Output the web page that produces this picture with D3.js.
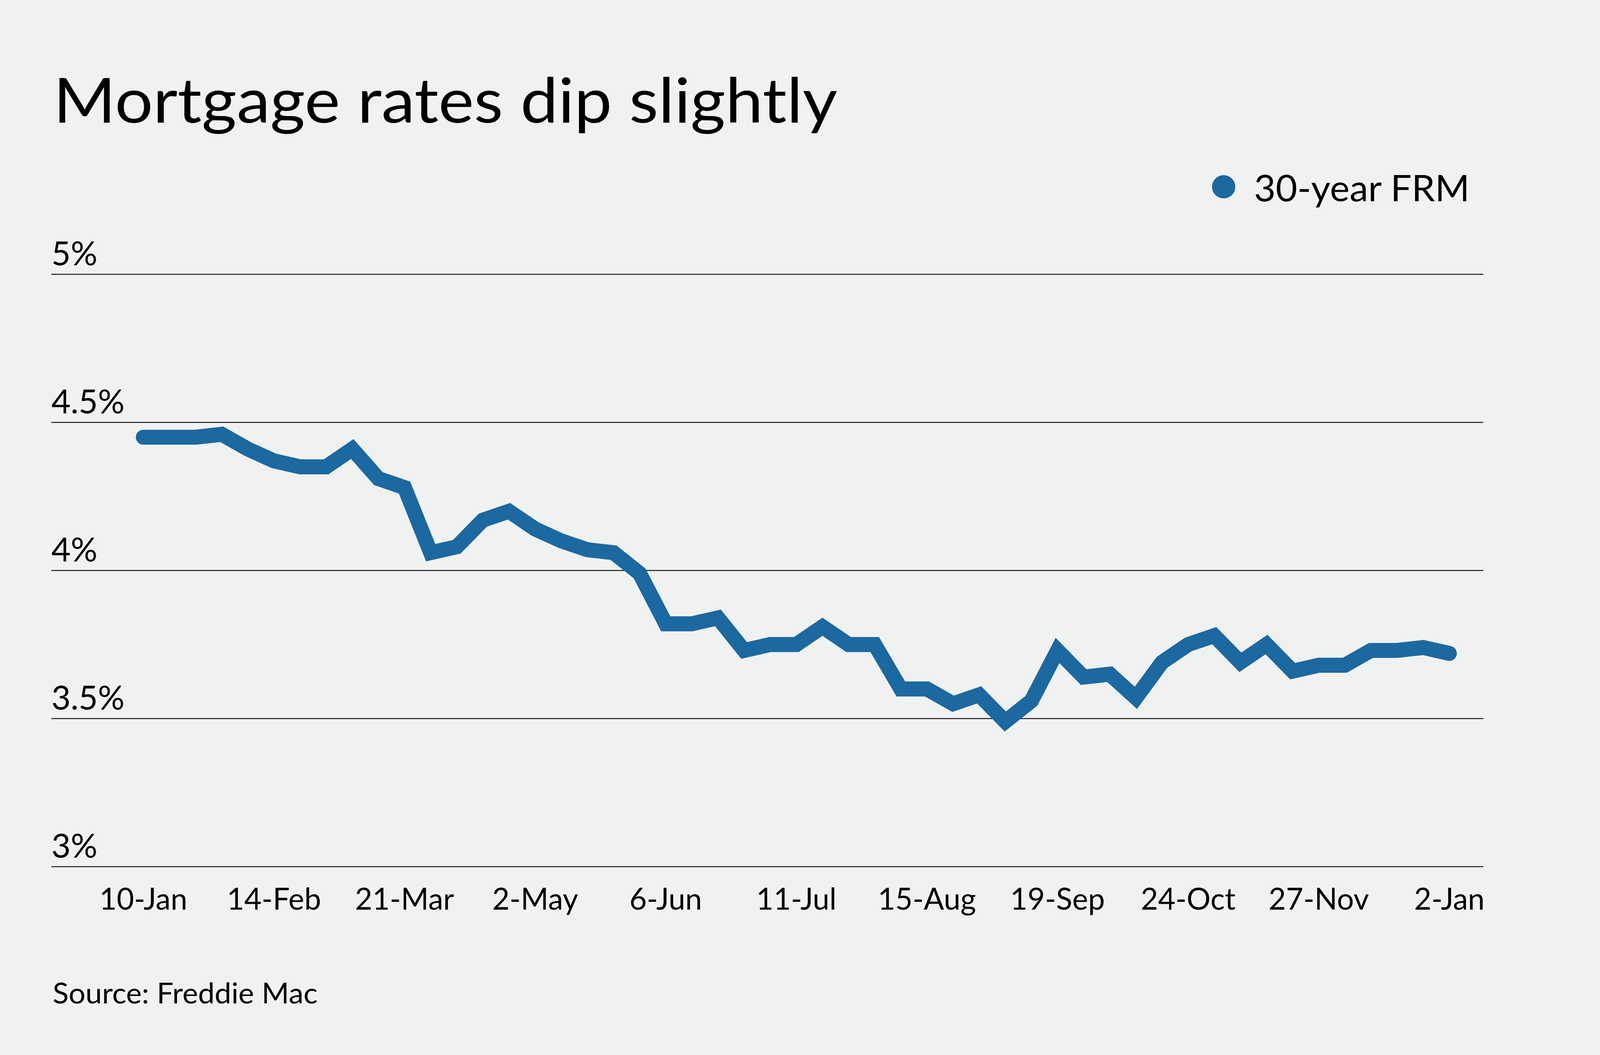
<!DOCTYPE html>
<html>
<head>
<meta charset="utf-8">
<script src="https://cdn.jsdelivr.net/npm/d3@7"></script>
<style>
  html, body { margin: 0; padding: 0; background: #f0f2f1; overflow: hidden; width: 100%; height: 100%; }
  svg { display: block; }
  text { font-family: Lato, "Open Sans", sans-serif; fill: #000; }
</style>
</head>
<body>
<svg id="chart"></svg>
<script>
const dates = ["10-Jan","17-Jan","24-Jan","31-Jan","7-Feb","14-Feb","21-Feb","28-Feb","7-Mar","14-Mar",
  "21-Mar","28-Mar","4-Apr","18-Apr","25-Apr","2-May","9-May","16-May","23-May","30-May",
  "6-Jun","13-Jun","20-Jun","27-Jun","3-Jul","11-Jul","18-Jul","25-Jul","1-Aug","8-Aug",
  "15-Aug","22-Aug","29-Aug","5-Sep","12-Sep","19-Sep","26-Sep","3-Oct","10-Oct","17-Oct",
  "24-Oct","31-Oct","7-Nov","14-Nov","21-Nov","27-Nov","5-Dec","12-Dec","19-Dec","26-Dec","2-Jan"];
const rates = [4.45,4.45,4.45,4.46,4.41,4.37,4.35,4.35,4.41,4.31,
  4.28,4.06,4.08,4.17,4.20,4.14,4.10,4.07,4.06,3.99,
  3.82,3.82,3.84,3.73,3.75,3.75,3.81,3.75,3.75,3.60,
  3.60,3.55,3.58,3.49,3.56,3.73,3.64,3.65,3.57,3.69,
  3.75,3.78,3.69,3.75,3.66,3.68,3.68,3.73,3.73,3.74,3.72];
const tickLabels = ["10-Jan","14-Feb","21-Mar","2-May","6-Jun","11-Jul","15-Aug","19-Sep","24-Oct","27-Nov","2-Jan"];
const yTicks = [3, 3.5, 4, 4.5, 5];
const seriesName = "30-year FRM";
const title = "Mortgage rates dip slightly";
const source = "Source: Freddie Mac";

// Layout is designed on a 4800x2700 canvas and mapped to the actual viewport.
const W = window.innerWidth || 4800;
const H = window.innerHeight || 2700;
const sx = W / 4800, sy = H / 2700;
const X = v => v * sx, Y = v => v * sy, F = v => v * sx;

const svg = d3.select("#chart").attr("width", W).attr("height", H);
svg.append("rect").attr("width", W).attr("height", H).attr("fill", "#f0f2f1");

const x = d3.scalePoint().domain(dates).range([X(430), X(4348)]);
const y = d3.scaleLinear().domain([3, 5]).range([Y(2218), Y(702)]);

// Title
svg.append("text").attr("x", X(160)).attr("y", Y(314))
  .attr("font-size", F(186)).attr("font-weight", 400)
  .attr("textLength", X(2352)).attr("lengthAdjust", "spacingAndGlyphs")
  .text(title);

// Gridlines + y labels
const gy = svg.append("g");
gy.selectAll("line.grid").data(yTicks).join("line")
  .attr("class", "grid")
  .attr("x1", X(154)).attr("x2", X(4450))
  .attr("y1", d => y(d)).attr("y2", d => y(d))
  .attr("stroke", "#1a1a1a").attr("stroke-width", F(3));
gy.selectAll("text.ylab").data(yTicks).join("text")
  .attr("class", "ylab")
  .attr("x", X(154)).attr("y", d => y(d) - Y(23))
  .attr("font-size", F(100))
  .text(d => d + "%");

// X axis labels
const gx = svg.append("g");
gx.selectAll("text.xlab").data(tickLabels).join("text")
  .attr("class", "xlab")
  .attr("x", d => x(d)).attr("y", Y(2328))
  .attr("text-anchor", "middle")
  .attr("font-size", F(90))
  .text(d => d);

// Line
const line = d3.line().x((d, i) => x(dates[i])).y(d => y(d));
svg.append("path").datum(rates)
  .attr("d", line)
  .attr("fill", "none")
  .attr("stroke", "#1c68a0")
  .attr("stroke-width", F(45))
  .attr("stroke-linecap", "round")
  .attr("stroke-linejoin", "miter");

// Legend
svg.append("circle").attr("cx", X(3671)).attr("cy", Y(478)).attr("r", F(35)).attr("fill", "#1c68a0");
svg.append("text").attr("x", X(3762)).attr("y", Y(515))
  .attr("font-size", F(108))
  .attr("textLength", X(647)).attr("lengthAdjust", "spacingAndGlyphs")
  .text(seriesName);

// Source
svg.append("text").attr("x", X(158)).attr("y", Y(2568))
  .attr("font-size", F(86))
  .attr("textLength", X(795)).attr("lengthAdjust", "spacingAndGlyphs")
  .text(source);
</script>
</body>
</html>
